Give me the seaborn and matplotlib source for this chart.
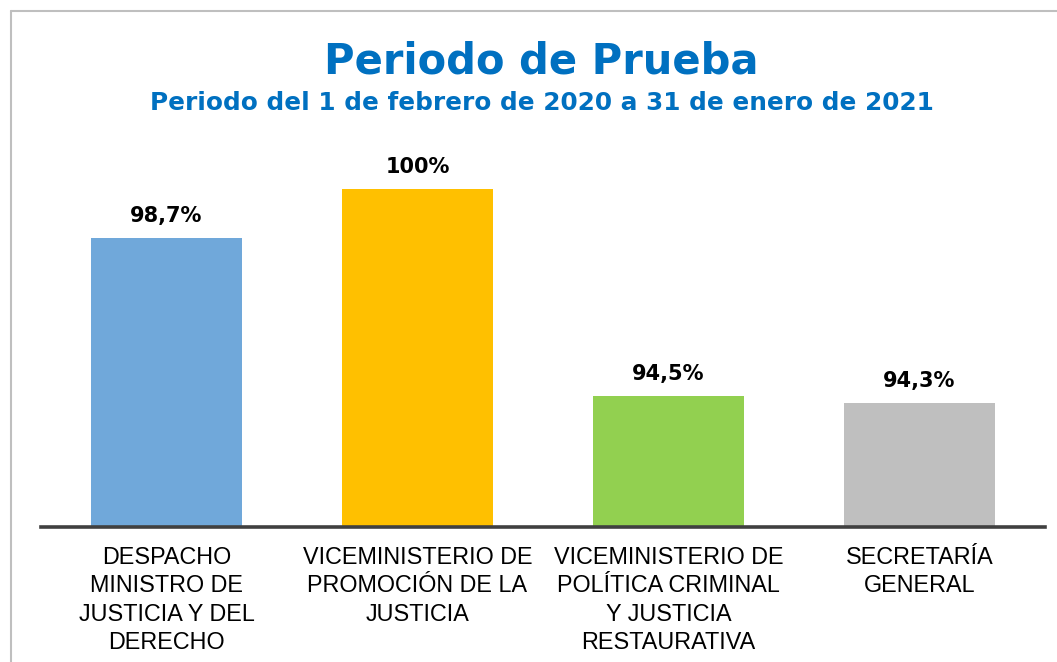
import matplotlib
matplotlib.use("Agg")
import matplotlib.pyplot as plt
import seaborn as sns
import pandas as pd

categories = [
    "DESPACHO\nMINISTRO DE\nJUSTICIA Y DEL\nDERECHO",
    "VICEMINISTERIO DE\nPROMOCIÓN DE LA\nJUSTICIA",
    "VICEMINISTERIO DE\nPOLÍTICA CRIMINAL\nY JUSTICIA\nRESTAURATIVA",
    "SECRETARÍA\nGENERAL",
]
values = [98.7, 100.0, 94.5, 94.3]
value_labels = ["98,7%", "100%", "94,5%", "94,3%"]
colors = ["#70A8DA", "#FFC000", "#92D050", "#BFBFBF"]

title = "Periodo de Prueba"
subtitle = "Periodo del 1 de febrero de 2020 a 31 de enero de 2021"

sns.set_theme(style="white")
plt.rcParams["font.family"] = ["Liberation Sans", "DejaVu Sans"]

W, H = 1057, 662
fig = plt.figure(figsize=(W / 100, H / 100), dpi=100)

ax_left, ax_right, ax_bottom, ax_top = 41, 1045, 527, 150
ax = fig.add_axes([ax_left / W, 1 - ax_bottom / H, (ax_right - ax_left) / W, (ax_bottom - ax_top) / H])

df = pd.DataFrame({"cat": categories, "val": values})
sns.barplot(data=df, x="cat", y="val", hue="cat", palette=colors, legend=False,
            width=0.6, ax=ax, saturation=1, edgecolor="none")

px_per_unit = 37.5
ymin = 91.0
ax.set_ylim(ymin, ymin + (ax_bottom - ax_top) / px_per_unit)
ax.set_xlim(-0.5, 3.5)

for i, (v, lab) in enumerate(zip(values, value_labels)):
    ax.annotate(lab, (i, v), xytext=(0, 16), textcoords="offset points",
                ha="center", va="center", fontsize=15, fontweight="bold",
                family=["DejaVu Sans"], color="black")

for s in ["left", "right", "top"]:
    ax.spines[s].set_visible(False)
ax.spines["bottom"].set_color("#404040")
ax.spines["bottom"].set_linewidth(2.6)
ax.set_yticks([])
ax.set_xlabel("")
ax.set_ylabel("")
ax.tick_params(axis="x", length=0, pad=13.5, labelsize=16.8, labelcolor="black")
for t in ax.get_xticklabels():
    t.set_linespacing(1.3)
    t.set_va("top")

fig.text(541 / W, 1 - 62 / H, title, ha="center", va="center", fontsize=30,
         fontweight="bold", color="#0070C0", family=["DejaVu Sans"])
fig.text(542 / W, 1 - 103 / H, subtitle, ha="center", va="center", fontsize=17.8,
         fontweight="bold", color="#0070C0", family=["DejaVu Sans"])

fig.add_artist(plt.Line2D([11 / W, 11 / W], [0, 1 - 11 / H], color="#BFBFBF", lw=1.5,
                          transform=fig.transFigure))
fig.add_artist(plt.Line2D([11 / W, 1], [1 - 11 / H, 1 - 11 / H], color="#BFBFBF", lw=1.5,
                          transform=fig.transFigure))

fig.savefig("out.png", dpi=100)
